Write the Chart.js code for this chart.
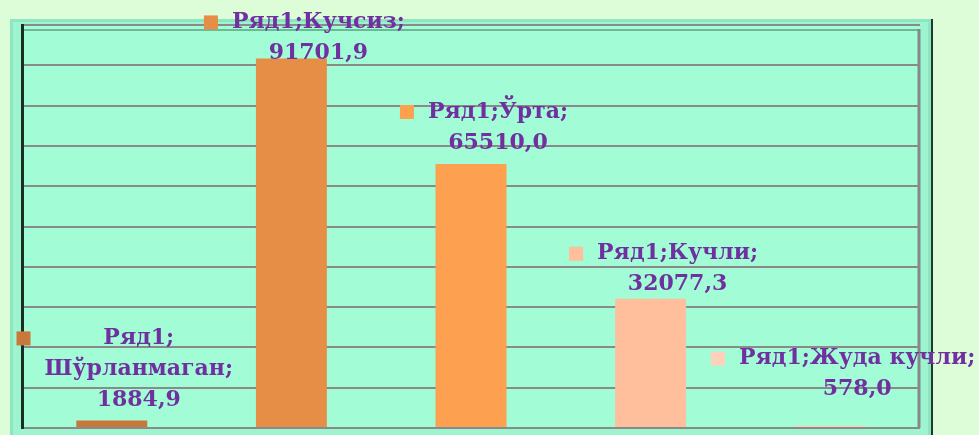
<!DOCTYPE html>
<html>
<head>
<meta charset="utf-8">
<script src="https://cdn.jsdelivr.net/npm/chart.js@4.4.0/dist/chart.umd.min.js"></script>
<style>
  html, body { margin: 0; padding: 0; background: #dcfdd8; }
  canvas { display: block; }
</style>
</head>
<body>
<canvas id="Chart" width="979" height="435"></canvas>
<script>
// data
const seriesName = 'Ряд1';
const categories = ['Шўрланмаган', 'Кучсиз', 'Ўрта', 'Кучли', 'Жуда кучли'];
const values = [1884.9, 91701.9, 65510.0, 32077.3, 578.0];
const barColors = ['#c8783a', '#e68e46', '#fda050', '#ffbf9c', '#ffd0bc'];

// how far above the bar top the last label line sits (px) and whether the label wraps
const labelLift = [20, 5, 21, 14, 36];
const labelSplit = [true, false, false, false, false];

function fmt(v) {
    return v.toFixed(1).replace('.', ',');
}

const framePlugin = {
    id: 'frame',
    beforeDraw(chart) {
        const c = chart.ctx;
        const a = chart.chartArea;
        c.save();
        c.fillStyle = '#dcfdd8';
        c.fillRect(0, 0, chart.width, chart.height);
        // outer bevel
        c.fillStyle = '#8ee6c0';
        c.fillRect(10, 19, 921, chart.height - 19);
        c.fillStyle = '#9df5d0';
        c.fillRect(13, 22, 915, chart.height - 22);
        // plot wall
        c.fillStyle = '#a2fcd6';
        c.fillRect(a.left, a.top, a.right - a.left, a.bottom - a.top);
        // inner edge shade
        c.strokeStyle = '#6fb896';
        c.lineWidth = 2;
        c.beginPath();
        c.moveTo(a.left, a.top + 5);
        c.lineTo(a.right - 2, a.top + 5);
        c.stroke();
        c.strokeStyle = '#888';
        c.lineWidth = 3;
        c.beginPath();
        c.moveTo(a.right - 1, a.top + 4);
        c.lineTo(a.right - 1, a.bottom);
        c.stroke();
        // dark right edge
        c.strokeStyle = '#1d3a2e';
        c.lineWidth = 2;
        c.beginPath();
        c.moveTo(932, 19);
        c.lineTo(932, chart.height);
        c.stroke();
        c.restore();
    }
};

const labelPlugin = {
    id: 'barLabels',
    afterDatasetsDraw(chart) {
        const c = chart.ctx;
        const meta = chart.getDatasetMeta(0);
        c.save();
        c.font = 'bold 22px "DejaVu Serif"';
        c.fillStyle = '#7030a0';
        c.textAlign = 'center';
        c.textBaseline = 'middle';
        meta.data.forEach((bar, i) => {
            let lines;
            if (labelSplit[i]) {
                lines = [seriesName + ';', categories[i] + ';', fmt(values[i])];
            } else {
                lines = [seriesName + ';' + categories[i] + ';', fmt(values[i])];
            }
            const lh = 31;
            const cx = bar.x + 27;
            const lastY = bar.y - labelLift[i];
            const firstY = lastY - lh * (lines.length - 1);
            let minLeft = Infinity;
            lines.forEach((t, k) => {
                c.fillText(t, cx, firstY + k * lh);
                minLeft = Math.min(minLeft, cx - c.measureText(t).width / 2);
            });
            c.fillStyle = barColors[i];
            c.fillRect(minLeft - 28, firstY - 7, 14, 14);
            c.fillStyle = '#7030a0';
        });
        c.restore();
    }
};

const ctx = document.getElementById('Chart').getContext('2d');

const myChart = new Chart(ctx, {
    type: 'bar',
    data: {
        labels: categories,
        datasets: [{
            label: seriesName,
            data: values,
            backgroundColor: barColors,
            borderWidth: 0,
            categoryPercentage: 1,
            barPercentage: 0.395
        }]
    },
    options: {
        responsive: false,
        animation: false,
        layout: {
            padding: { left: 22, top: 25, right: 59, bottom: 7 }
        },
        plugins: {
            legend: { display: false },
            tooltip: { enabled: false }
        },
        scales: {
            x: { display: false },
            y: {
                min: 0,
                max: 100000,
                ticks: { display: false, stepSize: 10000 },
                grid: { color: '#8a8a8a', lineWidth: 2, drawTicks: false },
                border: { display: true, color: '#1a2e25', width: 3 }
            }
        }
    },
    plugins: [framePlugin, labelPlugin]
});
</script>
</body>
</html>
